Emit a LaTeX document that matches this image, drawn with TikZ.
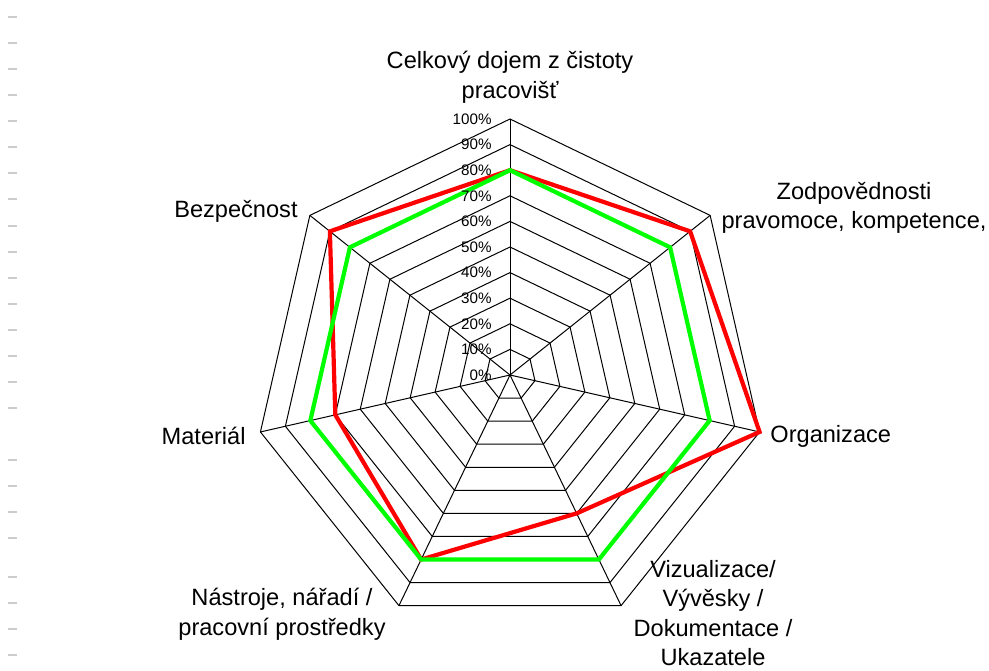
\documentclass[tikz,border=0pt]{standalone}
\usepackage{fontspec}
\setmainfont{Liberation Sans}
\usetikzlibrary{positioning}

\begin{document}
\begin{tikzpicture}[x=0.5pt,y=0.5pt,
gridline/.style={black,line width=0.5pt},
series/.style={line width=2.1pt,line join=miter},
catlabel/.style={font=\fontsize{11.8}{14.8}\selectfont,align=center,inner sep=0pt},
pctlabel/.style={font=\fontsize{7.6}{9}\selectfont,anchor=east,inner sep=0pt},
marktick/.style={draw=black!20,line width=0.9pt} ]

\useasboundingbox[fill=white] (0,0) rectangle (989,670);

% faint ticks at the left margin
\foreach \ty in {17.3,43.3,69.3,95.3,121.3,147.3,173.3,199.3,225.7,251.7,277.7,303.7,329.7,355.7,381.7,407.7,460,486,512,538,577.3,603.3,629.3,655.3}
  \draw[marktick] (8,670-\ty) -- (17,670-\ty);

\begin{scope}[shift={(510,295)}]
\coordinate (c) at (0,0);

% rings
\foreach \lvl [evaluate=\lvl as \rad using 25.6*\lvl] in {1,...,10}
  \draw[gridline] (90:\rad) \foreach \k in {1,...,6} { -- (90-\k*51.4286:\rad) } -- cycle;

% spokes
\foreach \k in {0,...,6} {
  \coordinate (ax\k) at (90-\k*51.4286:256);
  \draw[gridline] (c) -- (ax\k);
}

% series
\draw[series,red] (90:0.8*256) -- (90-51.4286:0.9*256) -- (90-2*51.4286:1.0*256)
  -- (90-3*51.4286:0.6*256) -- (90-4*51.4286:0.8*256) -- (90-5*51.4286:0.7*256)
  -- (90-6*51.4286:0.9*256) -- cycle;
\draw[series,green] (90:0.8*256) \foreach \k in {1,...,6} { -- (90-\k*51.4286:0.8*256) } -- cycle;

% percent scale
\foreach \lvl [evaluate=\lvl as \pv using int(10*\lvl)] in {0,...,10}
  \node[pctlabel] (pct\lvl) at (-18,25.6*\lvl) {\pv\%};
\end{scope}

% category labels
\node[catlabel] (cel) at (510,593) {Celkový dojem z čistoty\\pracovišť};
\node[catlabel] (zod) at (854,462) {Zodpovědnosti\\pravomoce, kompetence,};
\node[catlabel,anchor=west] (org) at (770,234) {Organizace};
\node[catlabel] (viz) at (713,57) {Vizualizace/\\Vývěsky /\\Dokumentace /\\Ukazatele};
\node[catlabel] (nas) at (282,56) {Nástroje, nářadí /\\pracovní prostředky};
\node[catlabel,anchor=east] (mat) at (246,234) {Materiál};
\node[catlabel,anchor=east] (bez) at (298,459) {Bezpečnost};
\end{tikzpicture}
\end{document}
